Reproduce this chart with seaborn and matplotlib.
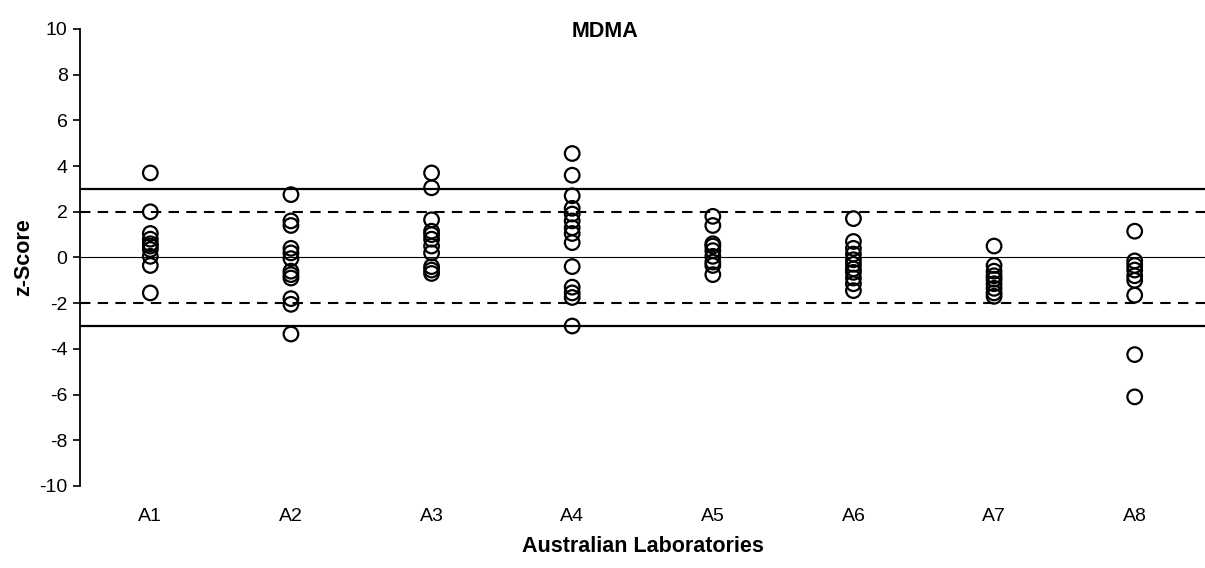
import numpy as np
import pandas as pd
import matplotlib
matplotlib.use("Agg")
import matplotlib.pyplot as plt
import seaborn as sns

labs = ["A1", "A2", "A3", "A4", "A5", "A6", "A7", "A8"]
z_a1 = [3.7, 2.0, 1.05, 0.8, 0.6, 0.5, 0.35, 0.05, -0.35, -1.55]
z_a2 = [2.75, 1.6, 1.4, 0.4, 0.2, -0.05, -0.6, -0.75, -0.9, -1.8, -2.05, -3.35]
z_a3 = [3.7, 3.05, 1.65, 1.15, 1.0, 0.8, 0.5, 0.2, -0.4, -0.55, -0.7]
z_a4 = [4.55, 3.6, 2.7, 2.15, 1.9, 1.6, 1.3, 1.05, 0.65, -0.4, -1.3, -1.55, -1.75, -3.0]
z_a5 = [1.8, 1.4, 0.6, 0.5, 0.3, 0.05, -0.2, -0.35, -0.75]
z_a6 = [1.7, 0.7, 0.4, 0.15, -0.1, -0.3, -0.5, -0.65, -0.9, -1.15, -1.45]
z_a7 = [0.5, -0.35, -0.6, -0.8, -0.95, -1.15, -1.35, -1.55, -1.7]
z_a8 = [1.15, -0.15, -0.35, -0.55, -0.8, -1.0, -1.65, -4.25, -6.1]

groups = [z_a1, z_a2, z_a3, z_a4, z_a5, z_a6, z_a7, z_a8]
df = pd.DataFrame({
    "lab": [lab for lab, g in zip(labs, groups) for _ in g],
    "z": [v for g in groups for v in g],
})

sns.set_style("white")
plt.rcParams["font.family"] = ["Liberation Sans", "DejaVu Sans"]
plt.rcParams["axes.unicode_minus"] = False
plt.rcParams["text.color"] = "black"
plt.rcParams["axes.labelcolor"] = "black"
plt.rcParams["xtick.color"] = "black"
plt.rcParams["ytick.color"] = "black"

fig = plt.figure(figsize=(12.05, 5.68), dpi=100)
ax = fig.add_axes([0.0664, 0.1444, 0.9336, 0.8046])

# limit lines
ax.axhline(3, color="black", lw=1.6)
ax.axhline(-3, color="black", lw=1.6)
ax.axhline(2, color="black", lw=1.5, ls=(0, (5, 3.5)))
ax.axhline(-2, color="black", lw=1.5, ls=(0, (5, 3.5)))
ax.axhline(0, color="black", lw=0.8)

sns.stripplot(data=df, x="lab", y="z", order=labs, jitter=False, ax=ax,
              color="none", edgecolor="black", linewidth=1.6, size=10.5,
              zorder=3)

ax.set_xlim(-0.5, 7.5)
ax.set_ylim(-10, 10)
ax.set_yticks(range(-10, 11, 2))
ax.tick_params(axis="y", direction="out", length=5, width=1.2, left=True,
               labelsize=14, pad=4)
ax.tick_params(axis="x", length=0, labelsize=14, pad=16)

for s in ["top", "right", "bottom"]:
    ax.spines[s].set_visible(False)
ax.spines["left"].set_linewidth(1.3)
ax.spines["left"].set_color("black")

ax.set_ylabel("z-Score", fontsize=15.5, fontweight="bold", labelpad=4)
ax.set_xlabel("Australian Laboratories", fontsize=15.5, fontweight="bold",
              labelpad=8)
ax.text(0.467, 0.995, "MDMA", transform=ax.transAxes, ha="center", va="center",
        fontsize=15.5, fontweight="bold")

fig.savefig("out.png", dpi=100)
